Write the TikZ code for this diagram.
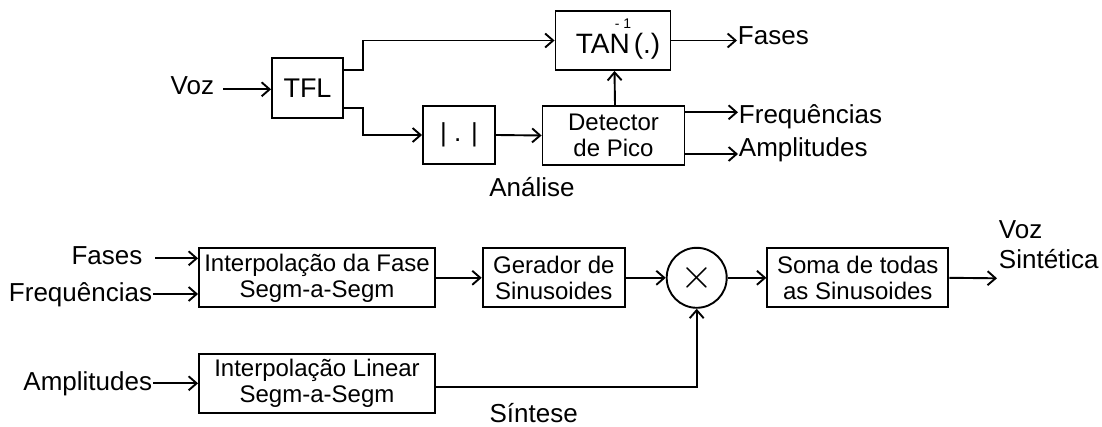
\documentclass[tikz,border=0pt]{standalone}
\usepackage{graphicx}
\usepackage{fontspec}
\setmainfont{Liberation Sans}
\usetikzlibrary{arrows.meta}
\begin{document}
\begin{tikzpicture}[x=1pt,y=-1pt, line width=1.9pt,
  blk/.style={draw, rectangle, inner sep=0pt, align=center, font=\fontsize{24}{26}\selectfont},
  lbl/.style={inner sep=0pt, font=\fontsize{26}{30}\selectfont},
  arr/.style={-{Straight Barb[length=8pt,width=14pt]}}]
\useasboundingbox (0,0) rectangle (1102,427);

% ---------- Analise ----------
\node[blk, minimum width=71pt, minimum height=60pt, font=\fontsize{27}{29}\selectfont] (tfl) at (307.5,88) {TFL};
\node[blk, minimum width=115pt, minimum height=59pt, font=\fontsize{28}{30}\selectfont] (tan) at (613,40.5)
  {\smash{\raisebox{-12.8pt}{\hspace*{10pt}TAN\rlap{\kern-15pt\raisebox{25pt}{\fontsize{14}{14}\selectfont - 1}}\kern4pt(.)}}};
\node[blk, minimum width=72pt, minimum height=58pt, font=\fontsize{26}{28}\selectfont] (abs) at (459,135) {| . |};
\node[blk, minimum width=142pt, minimum height=59pt] (det) at (613.5,135.5) {Detector\\de Pico};

\node[lbl, anchor=base east] (voz) at (215,95) {Voz};
\node[lbl, anchor=base west] (fasesO) at (737,45) {Fases};
\node[lbl, anchor=base west] (freqO) at (738,124) {Frequências};
\node[lbl, anchor=base west] (ampO) at (738,157) {Amplitudes};
\node[lbl, anchor=base] (analise) at (532,196.7) {Análise};

\coordinate (vozA) at (223,89.3);
\coordinate (fo) at (737,40.5);
\coordinate (fqo) at (738,112.3);
\coordinate (amo) at (738,154);

\draw[arr] (vozA) -- (vozA -| tfl.west);
\draw[arr] ([yshift=18pt]tfl.east) -- ++(19,0) |- (tan.west);
\draw[arr] ([yshift=-19.7pt]tfl.east) -- ++(19,0) |- (abs.west);
\draw[arr] (abs.east) -- (det.west);
\draw[arr] ([xshift=1.5pt]det.north) -- ([xshift=1.5pt]tan.south);
\draw[arr] (tan.east) -- (fo);
\draw[arr] (fqo -| det.east) -- (fqo);
\draw[arr] (amo -| det.east) -- (amo);

% ---------- Sintese ----------
\node[blk, minimum width=236pt, minimum height=59pt] (ifase) at (317,277.8) {Interpolação da Fase\\Segm-a-Segm};
\node[blk, minimum width=236pt, minimum height=58.7pt] (ilin) at (317,383.3) {Interpolação Linear\\Segm-a-Segm};
\node[blk, minimum width=142.3pt, minimum height=59pt] (ger) at (553.8,277.8) {Gerador de\\Sinusoides};
\node[draw, circle, minimum size=60pt, inner sep=0pt] (mult) at (696.7,277.8)
  {\scalebox{1.7}{\fontsize{24.88}{26}\selectfont$\times$}};
\node[blk, minimum width=181pt, minimum height=59pt] (soma) at (857.8,277.8) {Soma de todas\\as Sinusoides};

\node[lbl, anchor=base east] (fasesI) at (143.3,265) {Fases};
\node[lbl, anchor=base east] (freqI) at (153,301.7) {Frequências};
\node[lbl, anchor=base east] (ampI) at (153,390) {Amplitudes};
\node[lbl, anchor=base west, align=left] (vozS) at (998,268.3) {Voz\\Sintética};
\node[lbl, anchor=base] (sintese) at (533.7,422.5) {Síntese};

\coordinate (fb) at (155,258.3);
\coordinate (qb) at (153,294);
\coordinate (ab) at (153,383.3);
\coordinate (vs) at (997,278.3);

\draw[arr] (fb) -- (fb -| ifase.west);
\draw[arr] (qb) -- (qb -| ifase.west);
\draw[arr] (ab) -- (ab -| ilin.west);
\draw[arr] (ifase.east) -- (ger.west);
\draw[arr] (ger.east) -- (mult.west);
\draw[arr] (mult.east) -- (soma.west);
\draw[arr] (soma.east) -- (vs);
\draw[arr] ([yshift=-3.4pt]ilin.east) -| (mult.south);
\end{tikzpicture}
\end{document}
